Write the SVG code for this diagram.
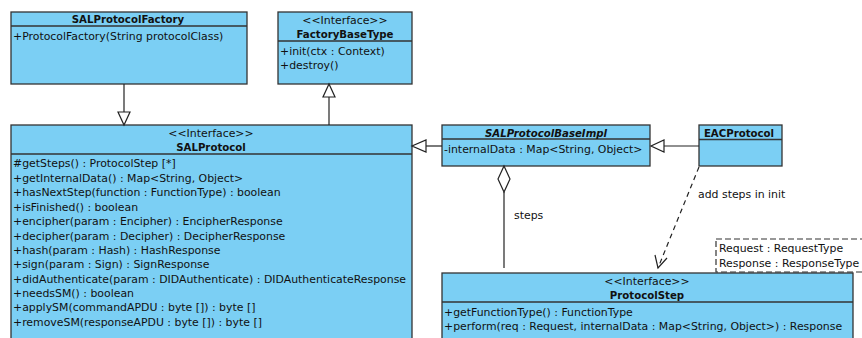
<svg xmlns="http://www.w3.org/2000/svg" width="862" height="338" viewBox="0 0 862 338">
<defs>
<style>
.box{fill:#7BCFF4;stroke:#333;stroke-width:1.3}
.sep{stroke:#333;stroke-width:1.3}
text{font-family:"DejaVu Sans",sans-serif;font-size:10.9px;fill:#111}
.b{font-weight:bold;font-size:10.2px}
.i{font-style:italic}
.c{text-anchor:middle}
.ln{stroke:#222;stroke-width:1.2;fill:none}
.tri{fill:#fff;stroke:#222;stroke-width:1.2}
</style>
</defs>
<rect width="862" height="338" fill="#fff"/>
<g id="SALProtocolFactory">
<rect class="box" x="11" y="12" width="236" height="72"/>
<line class="sep" x1="11" y1="26" x2="247" y2="26"/>
<text class="b c" x="128" y="23">SALProtocolFactory</text>
<text x="13" y="40">+ProtocolFactory(String protocolClass)</text>
</g>
<g id="FactoryBaseType">
<rect class="box" x="278" y="12" width="134" height="72"/>
<line class="sep" x1="278" y1="41" x2="412" y2="41"/>
<text class="c" x="345" y="24">&lt;&lt;Interface&gt;&gt;</text>
<text class="b c" x="345" y="38">FactoryBaseType</text>
<text x="280" y="55">+init(ctx : Context)</text>
<text x="280" y="69">+destroy()</text>
</g>
<g id="SALProtocol">
<rect class="box" x="11" y="125" width="401" height="220"/>
<line class="sep" x1="11" y1="154" x2="412" y2="154"/>
<text class="c" x="211" y="137">&lt;&lt;Interface&gt;&gt;</text>
<text class="b c" x="211" y="151">SALProtocol</text>
<text x="13" y="167">#getSteps() : ProtocolStep [*]</text>
<text x="13" y="181.5">+getInternalData() : Map&lt;String, Object&gt;</text>
<text x="13" y="196">+hasNextStep(function : FunctionType) : boolean</text>
<text x="13" y="210.5">+isFinished() : boolean</text>
<text x="13" y="225">+encipher(param : Encipher) : EncipherResponse</text>
<text x="13" y="239.5">+decipher(param : Decipher) : DecipherResponse</text>
<text x="13" y="254">+hash(param : Hash) : HashResponse</text>
<text x="13" y="268">+sign(param : Sign) : SignResponse</text>
<text x="13" y="282.5">+didAuthenticate(param : DIDAuthenticate) : DIDAuthenticateResponse</text>
<text x="13" y="297">+needsSM() : boolean</text>
<text x="13" y="311">+applySM(commandAPDU : byte []) : byte []</text>
<text x="13" y="325.5">+removeSM(responseAPDU : byte []) : byte []</text>
</g>
<g id="SALProtocolBaseImpl">
<rect class="box" x="442" y="125" width="208" height="41"/>
<line class="sep" x1="442" y1="139" x2="650" y2="139"/>
<text class="b i c" x="546" y="137">SALProtocolBaseImpl</text>
<text x="444" y="153">-internalData : Map&lt;String, Object&gt;</text>
</g>
<g id="EACProtocol">
<rect class="box" x="699" y="125" width="83" height="41"/>
<line class="sep" x1="699" y1="139.5" x2="782" y2="139.5"/>
<text class="b c" x="739" y="137">EACProtocol</text>
</g>
<g id="ProtocolStep">
<rect class="box" x="442" y="273" width="411" height="80"/>
<line class="sep" x1="442" y1="302" x2="853" y2="302"/>
<text class="c" x="647" y="285">&lt;&lt;Interface&gt;&gt;</text>
<text class="b c" x="647" y="299">ProtocolStep</text>
<text x="444" y="316">+getFunctionType() : FunctionType</text>
<text x="444" y="330">+perform(req : Request, internalData : Map&lt;String, Object&gt;) : Response</text>
</g>
<g id="TemplateParams">
<rect x="716" y="239" width="160" height="33" fill="#fff" stroke="#333" stroke-width="1.2" stroke-dasharray="6,3"/>
<text x="719" y="252">Request : RequestType</text>
<text x="719" y="267">Response : ResponseType</text>
</g>
<g id="connectors">
<line class="ln" x1="124" y1="84" x2="124" y2="112"/>
<polygon class="tri" points="118,112 130,112 124,125"/>
<line class="ln" x1="329" y1="125" x2="329" y2="97"/>
<polygon class="tri" points="323,97 335,97 329,84"/>
<line class="ln" x1="442" y1="146" x2="426" y2="146"/>
<polygon class="tri" points="426,140 426,152 412,146"/>
<line class="ln" x1="699" y1="146" x2="664" y2="146"/>
<polygon class="tri" points="664,140 664,152 651,146"/>
<polygon class="tri" points="504,166 510,179 504,192 498,179"/>
<line class="ln" x1="504" y1="192" x2="504" y2="268"/>
<text x="514" y="219">steps</text>
<line class="ln" x1="699" y1="167" x2="658" y2="268" stroke-dasharray="5,4"/>
<polyline class="ln" points="655,255 658,268 667,258"/>
<text x="698" y="198">add steps in init</text>
</g>
</svg>
